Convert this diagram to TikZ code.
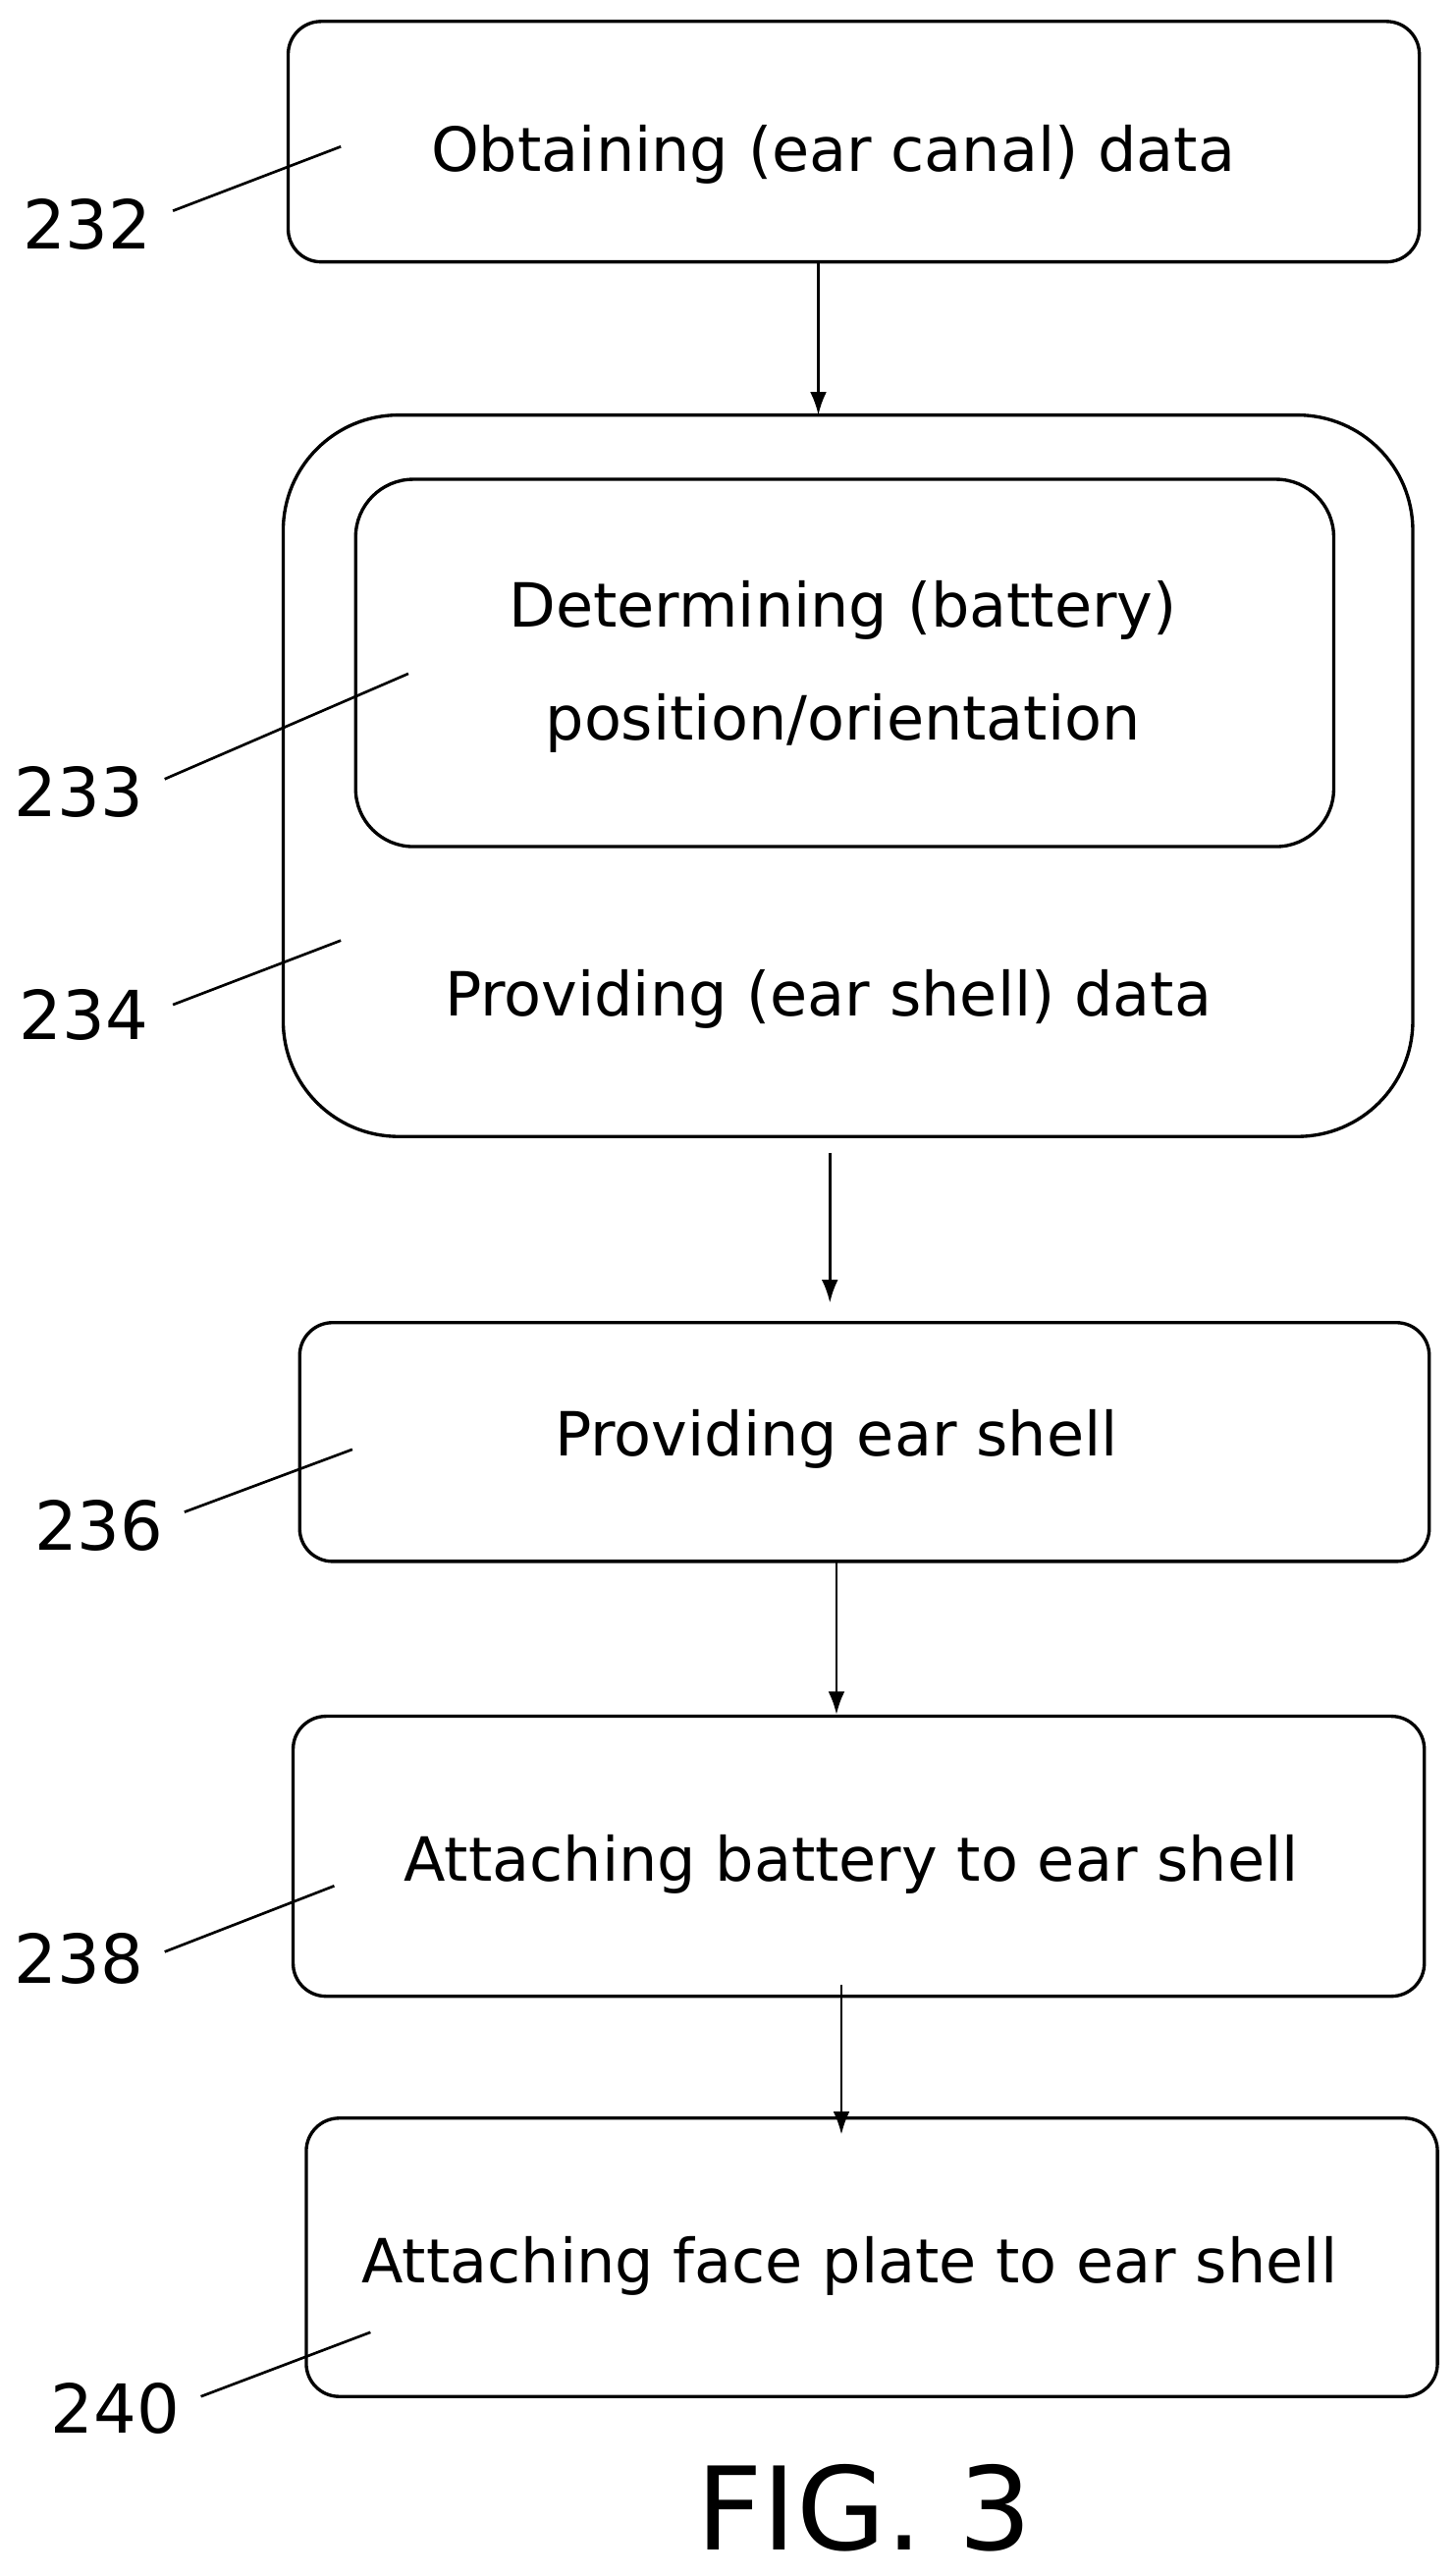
\documentclass[tikz,border=0pt]{standalone}
\usepackage{fontspec}
\setmainfont{DejaVu Sans}
\usetikzlibrary{arrows.meta}
\begin{document}
\begin{tikzpicture}[x=1pt,y=-1pt,
 box/.style={draw,line width=2pt,rounded corners=20pt},
 txt/.style={font=\fontsize{37}{42}\selectfont,inner sep=0,anchor=base},
 lbl/.style={font=\fontsize{41}{46}\selectfont,inner sep=0,anchor=base},
 arr/.style={-{Latex[length=14pt,width=10pt]},line width=1.6pt},
 ld/.style={line width=1.6pt}]
\useasboundingbox (0,0) rectangle (884,1564);
\draw[box] (175,13) rectangle (862,159);
\node[txt] (t1) at (506,104) {Obtaining (ear canal) data};
\draw[box,rounded corners=70pt] (172,252) rectangle (858,690);
\draw[box,rounded corners=35pt] (216,291) rectangle (810,514);
\node[txt] (t2) at (512,381) {Determining (battery)};
\node[txt] (t3) at (512,449) {position/orientation};
\node[txt] (t4) at (503,617) {Providing (ear shell) data};
\draw[box] (182,803) rectangle (868,948);
\node[txt] (t5) at (508,884) {Providing ear shell};
\draw[box] (178,1042) rectangle (865,1212);
\node[txt] (t6) at (517,1142) {Attaching battery to ear shell};
\draw[box] (186,1286) rectangle (873,1455);
\node[txt] (t7) at (516,1386) {Attaching face plate to ear shell};
\coordinate (a1) at (497,159); \coordinate (a2) at (497,252);
\coordinate (b1) at (504,700); \coordinate (b2) at (504,791);
\coordinate (c1) at (508,948); \coordinate (c2) at (508,1041);
\coordinate (d1) at (511,1205); \coordinate (d2) at (511,1296);
\draw[arr] (a1)--(a2); \draw[arr] (b1)--(b2); \draw[arr] (c1)--(c2); \draw[arr] (d1)--(d2);
\node[lbl] (l1) at (53,151) {232}; \draw[ld] (105,128)--(207,89);
\node[lbl] (l2) at (48,496) {233}; \draw[ld] (100,473)--(248,409);
\node[lbl] (l3) at (51,631) {234}; \draw[ld] (105,610)--(207,571);
\node[lbl] (l4) at (60,941) {236}; \draw[ld] (112,918)--(214,880);
\node[lbl] (l5) at (48,1204) {238}; \draw[ld] (100,1185)--(203,1145);
\node[lbl] (l6) at (70,1477) {240}; \draw[ld] (122,1455)--(225,1416);
\node[font=\fontsize{70}{78}\selectfont,inner sep=0,anchor=base] (fig) at (525,1548) {FIG. 3};
\end{tikzpicture}
\end{document}
